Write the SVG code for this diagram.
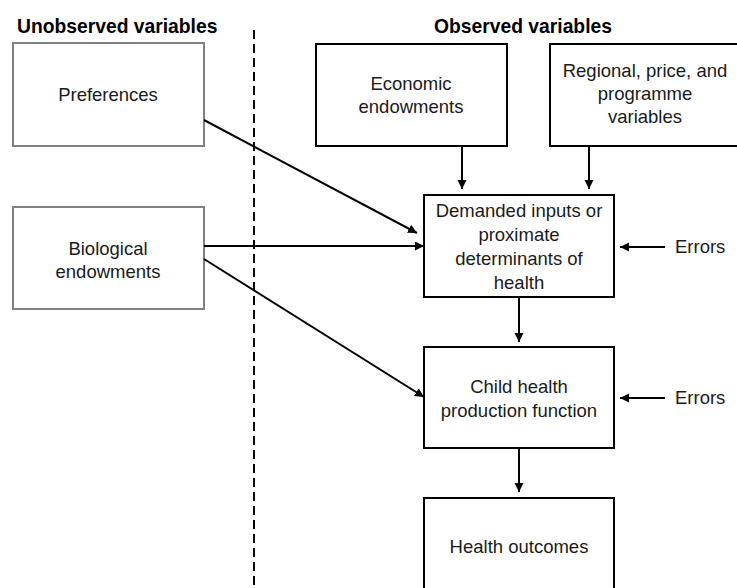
<svg xmlns="http://www.w3.org/2000/svg" width="737" height="588" viewBox="0 0 737 588">
<defs>
<marker id="ah" markerWidth="10" markerHeight="10" refX="9" refY="4.5" orient="auto" markerUnits="userSpaceOnUse">
<path d="M0,0 L9,4.5 L0,9 Z" fill="#000"/>
</marker>
<style>
.t{font-family:"Liberation Sans",Arial,sans-serif;font-size:18.5px;fill:#1a1a1a;text-anchor:middle}
.e{font-family:"Liberation Sans",Arial,sans-serif;font-size:18.5px;fill:#1a1a1a;text-anchor:start}
.h{font-family:"Liberation Sans",Arial,sans-serif;font-size:19.3px;font-weight:bold;fill:#000}
.gb{fill:#fff;stroke:#808080;stroke-width:2}
.bb{fill:#fff;stroke:#000;stroke-width:2}
.c{stroke:#000;stroke-width:2;fill:none;marker-end:url(#ah)}
</style>
</defs>
<rect width="737" height="588" fill="#fff"/>
<text class="h" x="17" y="33">Unobserved variables</text>
<text class="h" x="523" y="33" text-anchor="middle">Observed variables</text>
<line x1="254" y1="30" x2="254" y2="588" stroke="#000" stroke-width="2" stroke-dasharray="9,5"/>
<g id="preferences"><rect class="gb" x="13" y="43" width="191" height="103"/><text class="t" x="108" y="101">Preferences</text></g>
<g id="biological"><rect class="gb" x="13" y="207" width="191" height="102"/><text class="t" x="108" y="255">Biological</text><text class="t" x="108" y="278">endowments</text></g>
<g id="economic"><rect class="bb" x="316" y="44" width="191" height="102"/><text class="t" x="411" y="90">Economic</text><text class="t" x="411" y="113">endowments</text></g>
<g id="regional"><rect class="bb" x="550" y="44" width="191" height="102"/><text class="t" x="645" y="77">Regional, price, and</text><text class="t" x="645" y="100">programme</text><text class="t" x="645" y="123">variables</text></g>
<g id="demanded"><rect class="bb" x="424" y="195" width="190" height="102"/><text class="t" x="519" y="217">Demanded inputs or</text><text class="t" x="519" y="241">proximate</text><text class="t" x="519" y="265">determinants of</text><text class="t" x="519" y="289">health</text></g>
<g id="child"><rect class="bb" x="424" y="347" width="190" height="101"/><text class="t" x="519" y="393">Child health</text><text class="t" x="519" y="417">production function</text></g>
<g id="outcomes"><rect class="bb" x="424" y="498" width="190" height="110"/><text class="t" x="519" y="553">Health outcomes</text></g>
<g id="errors1"><text class="e" x="675" y="253">Errors</text></g>
<g id="errors2"><text class="e" x="675" y="404">Errors</text></g>
<g id="connectors">
<line class="c" x1="462" y1="146" x2="462" y2="189"/>
<line class="c" x1="589" y1="146" x2="589" y2="189"/>
<line class="c" x1="204" y1="120" x2="417" y2="233"/>
<line class="c" x1="204" y1="246" x2="424" y2="246"/>
<line class="c" x1="204" y1="259" x2="424" y2="397"/>
<line class="c" x1="665" y1="247" x2="620" y2="247"/>
<line class="c" x1="665" y1="398" x2="620" y2="398"/>
<line class="c" x1="519" y1="297" x2="519" y2="342"/>
<line class="c" x1="519" y1="448" x2="519" y2="492"/>
</g>
</svg>
